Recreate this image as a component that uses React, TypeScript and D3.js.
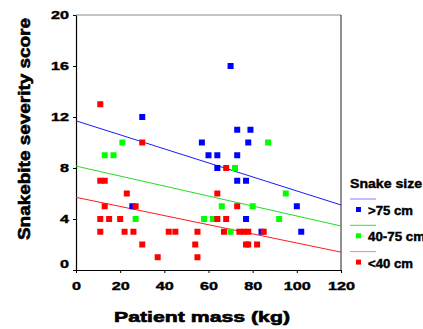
import React, { useEffect, useRef } from 'react';
import * as d3 from 'd3';

const sizeGroups = ['>75 cm', '40-75 cm', '<40 cm'];
const markColors = ['#0000ff', '#00ff00', '#ff0000'];
const lineColors = ['#1a1aff', '#22dd22', '#ff1a1a'];

// patient mass (kg) / severity score pairs
const bigMass = [30, 25.5, 70, 73, 79, 57, 78, 60, 64, 73, 64, 73, 77, 100, 77, 84, 102];
const bigScore = [12, 5, 16, 11, 11, 10, 10, 9, 9, 9, 8, 7, 7, 5, 4, 3, 3];

const midMass = [21, 13, 17, 27, 87, 72, 95, 66, 80, 58, 62, 92, 70];
const midScore = [10, 9, 9, 4, 10, 8, 6, 5, 5, 4, 4, 4, 3];

const smallMass = [11, 30, 11, 13, 23, 13, 27, 11, 15, 20, 11, 22, 26, 30, 37, 42, 45, 55, 54, 55,
  68, 64, 73, 64, 68, 67, 74, 76, 78, 85, 77, 78, 82];
const smallScore = [13, 10, 7, 7, 6, 5, 5, 4, 4, 4, 3, 3, 3, 2, 1, 3, 3, 3, 2, 1,
  8, 6, 5, 4, 4, 3, 3, 3, 3, 3, 2, 2, 2];

// fitted lines: value at 0 kg and at 120 kg
const fitAt0 = [11.7, 8.15, 5.7];
const fitAt120 = [5.1, 3.45, 1.4];

const xTicks = [0, 20, 40, 60, 80, 100, 120];
const yTicks = [0, 4, 8, 12, 16, 20];

const FONT = '"Liberation Sans", Arial, sans-serif';

const App = () => {
  const ref = useRef<SVGSVGElement>(null);

  useEffect(() => {
    const svg = d3.select(ref.current);
    svg.selectAll('*').remove();

    const left = 76, right = 341, top = 15, bottom = 270;
    const x = d3.scaleLinear().domain([0, 120]).range([left, right]);
    const y = d3.scaleLinear().domain([0, 20]).range([bottom, top]);

    // frame
    svg.append('line').attr('x1', left).attr('x2', right).attr('y1', top).attr('y2', top)
      .attr('stroke', '#8a8a8a').attr('stroke-width', 1);
    svg.append('line').attr('x1', right).attr('x2', right).attr('y1', top).attr('y2', bottom)
      .attr('stroke', '#222').attr('stroke-width', 1);

    const xAxis = svg.append('g').attr('transform', `translate(0,${bottom})`)
      .call(d3.axisBottom(x).tickValues(xTicks).tickSize(3).tickSizeOuter(0).tickPadding(5));
    const yAxis = svg.append('g').attr('transform', `translate(${left},0)`)
      .call(d3.axisLeft(y).tickValues(yTicks).tickSize(3).tickSizeOuter(0).tickPadding(4));

    [xAxis, yAxis].forEach(ax => {
      ax.select('.domain').attr('stroke', '#000').attr('stroke-width', 1.2);
      ax.selectAll('.tick line').attr('stroke', '#000');
      ax.selectAll('.tick text')
        .attr('fill', '#000')
        .attr('stroke', '#000')
        .attr('stroke-width', 0.4)
        .style('font-family', FONT)
        .style('font-weight', 'bold')
        .style('font-size', '11.5px')
        .attr('lengthAdjust', 'spacingAndGlyphs')
        .attr('textLength', (d: any) => String(d).length * 9);
    });
    xAxis.selectAll('.tick text').attr('dy', '1.05em');
    // zero label on the y axis sits a bit higher
    yAxis.selectAll('.tick text').filter((d: any) => d === 0).attr('y', -6);

    // fitted lines
    const groups = [
      { mass: bigMass, score: bigScore },
      { mass: midMass, score: midScore },
      { mass: smallMass, score: smallScore },
    ];
    groups.forEach((g, i) => {
      svg.append('line')
        .attr('x1', x(0)).attr('y1', y(fitAt0[i]))
        .attr('x2', x(120)).attr('y2', y(fitAt120[i]))
        .attr('stroke', lineColors[i]).attr('stroke-width', 1);
    });

    // points
    const s = 6;
    groups.forEach((g, i) => {
      svg.append('g').selectAll('rect')
        .data(g.mass.map((m, k) => [m, g.score[k]]))
        .enter().append('rect')
        .attr('x', d => x(d[0]) - s / 2)
        .attr('y', d => y(d[1]) - s / 2)
        .attr('width', s).attr('height', s)
        .attr('fill', markColors[i]);
    });

    // legend
    const lg = svg.append('g').style('font-family', FONT).style('font-weight', 'bold')
      .attr('stroke-width', 0.4);
    lg.append('text').attr('x', 350).attr('y', 188).style('font-size', '12px').attr('stroke', '#000')
      .attr('textLength', 72).attr('lengthAdjust', 'spacingAndGlyphs').text('Snake size');
    const textLens = [45, 57, 45];
    sizeGroups.forEach((name, i) => {
      const yy = 199 + i * 26.3;
      lg.append('line').attr('x1', 350).attr('x2', 376).attr('y1', yy).attr('y2', yy)
        .attr('stroke', lineColors[i]).attr('stroke-width', 1)
        .attr('stroke-opacity', i === 1 ? 0.9 : 0.55);
      lg.append('rect').attr('x', 356).attr('y', yy + 8).attr('width', 5).attr('height', 5)
        .attr('fill', markColors[i]).attr('stroke', 'none');
      lg.append('text').attr('x', 368).attr('y', yy + 16).style('font-size', '12px').attr('stroke', '#000')
        .attr('textLength', textLens[i]).attr('lengthAdjust', 'spacingAndGlyphs').text(name);
    });

    // axis titles
    svg.append('text').attr('x', 202).attr('y', 322).attr('text-anchor', 'middle')
      .style('font-family', FONT).style('font-weight', 'bold').style('font-size', '15px')
      .attr('stroke', '#000').attr('stroke-width', 0.6)
      .attr('textLength', 176).attr('lengthAdjust', 'spacingAndGlyphs')
      .text('Patient mass (kg)');
    svg.append('text').attr('transform', 'translate(30,129) rotate(-90)').attr('text-anchor', 'middle')
      .style('font-family', FONT).style('font-weight', 'bold').style('font-size', '16px')
      .attr('stroke', '#000').attr('stroke-width', 0.6)
      .attr('textLength', 222).attr('lengthAdjust', 'spacingAndGlyphs')
      .text('Snakebite severity score');
  }, []);

  return (
    <svg
      ref={ref}
      width={423}
      height={329}
      style={{ position: 'absolute', left: 0, top: 0, background: '#fff', overflow: 'hidden' }}
    />
  );
};

export default App;
